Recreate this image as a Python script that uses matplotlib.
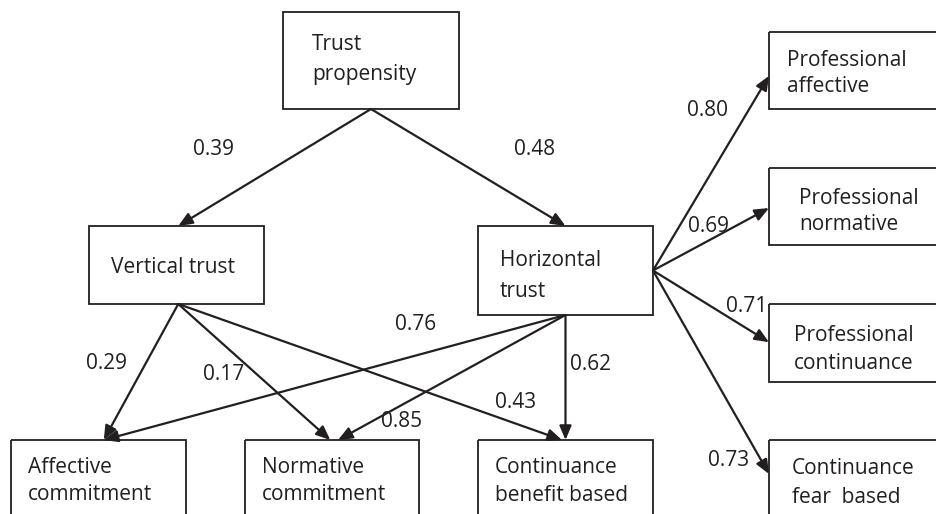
import matplotlib.pyplot as plt
from matplotlib.patches import Rectangle, FancyArrowPatch

plt.rcParams['font.family'] = ['Open Sans', 'DejaVu Sans']

INK = '#231f20'

# constructs of the path model
nodes = ['TP', 'VT', 'HT', 'PA', 'PN', 'PC', 'CF', 'AC', 'NC', 'CB']
node_text = [
    ['Trust', 'propensity'],
    ['Vertical trust'],
    ['Horizontal', 'trust'],
    ['Professional', 'affective'],
    ['Professional', 'normative'],
    ['Professional', 'continuance'],
    ['Continuance', 'fear  based'],
    ['Affective', 'commitment'],
    ['Normative', 'commitment'],
    ['Continuance', 'benefit based'],
]

# standardized path coefficients
path_from = ['TP', 'TP', 'HT', 'HT', 'HT', 'HT', 'VT', 'VT', 'VT', 'HT', 'HT', 'HT']
path_to = ['VT', 'HT', 'PA', 'PN', 'PC', 'CF', 'AC', 'NC', 'CB', 'AC', 'NC', 'CB']
path_coef = ['0.39', '0.48', '0.80', '0.69', '0.71', '0.73',
             '0.29', '0.17', '0.43', '0.76', '0.85', '0.62']

# ---- layout (pixels, origin top-left) ----
box = {
    'TP': (283, 12, 459, 109),
    'VT': (89, 226, 264, 304),
    'HT': (478, 226, 653, 315),
    'PA': (769, 32, 960, 109),
    'PN': (769, 168, 960, 245),
    'PC': (769, 304, 960, 382),
    'CF': (769, 440, 960, 540),
    'AC': (11, 440, 186, 540),
    'NC': (245, 440, 419, 540),
    'CB': (478, 440, 653, 540),
}
# first baseline of the box text and its line spacing
text_pos = {
    'TP': (312, 50, 30),
    'VT': (111, 273, 30),
    'HT': (500, 266, 31),
    'PA': (787, 66, 26),
    'PN': (799, 204, 26),
    'PC': (794, 341, 28),
    'CF': (792, 474, 29),
    'AC': (28, 473, 27),
    'NC': (262, 473, 27),
    'CB': (495, 473, 28),
}
# anchor of each path on the source / target box, as fractions of the box
start_anchor = [(0.5, 1), (0.5, 1), (1, 0.5), (1, 0.5), (1, 0.5), (1, 0.5),
                (0.51, 1), (0.51, 1), (0.51, 1), (0.5, 1), (0.5, 1), (0.5, 1)]
end_anchor = [(0.51, 0), (0.5, 0), (0, 0.57), (0, 0.52), (0, 0.49), (0, 0.34),
              (0.53, 0), (0.49, 0), (0.48, 0), (0.53, 0), (0.535, 0), (0.5, 0)]
label_pos = [(193, 155), (514, 155), (687, 116), (688, 232), (726, 312), (708, 466),
             (86, 369), (203, 380), (495, 408), (395, 330), (381, 427), (570, 370)]


def anchor(name, frac):
    x0, y0, x1, y1 = box[name]
    return x0 + frac[0] * (x1 - x0), y0 + frac[1] * (y1 - y0)


fig = plt.figure(figsize=(9.37, 5.14), dpi=100)
ax = fig.add_axes([0, 0, 1, 1])
ax.set_xlim(0, 937)
ax.set_ylim(514, 0)
ax.axis('off')

for name, lines in zip(nodes, node_text):
    x0, y0, x1, y1 = box[name]
    ax.add_patch(Rectangle((x0, y0), x1 - x0, y1 - y0, fill=False,
                           edgecolor=INK, linewidth=1.3))
    tx, ty, step = text_pos[name]
    for i, line in enumerate(lines):
        ax.text(tx, ty + i * step, line, fontsize=15, color=INK,
                ha='left', va='baseline')

for src, dst, coef, sa, ea, lp in zip(path_from, path_to, path_coef,
                                      start_anchor, end_anchor, label_pos):
    arr = FancyArrowPatch(anchor(src, sa), anchor(dst, ea),
                          arrowstyle='-|>,head_length=8.5,head_width=3.6',
                          mutation_scale=1, shrinkA=0, shrinkB=0,
                          color=INK, linewidth=1.6)
    ax.add_patch(arr)
    ax.text(lp[0], lp[1], coef, fontsize=15, color=INK, ha='left', va='baseline')

plt.savefig('out.png', dpi=100)
